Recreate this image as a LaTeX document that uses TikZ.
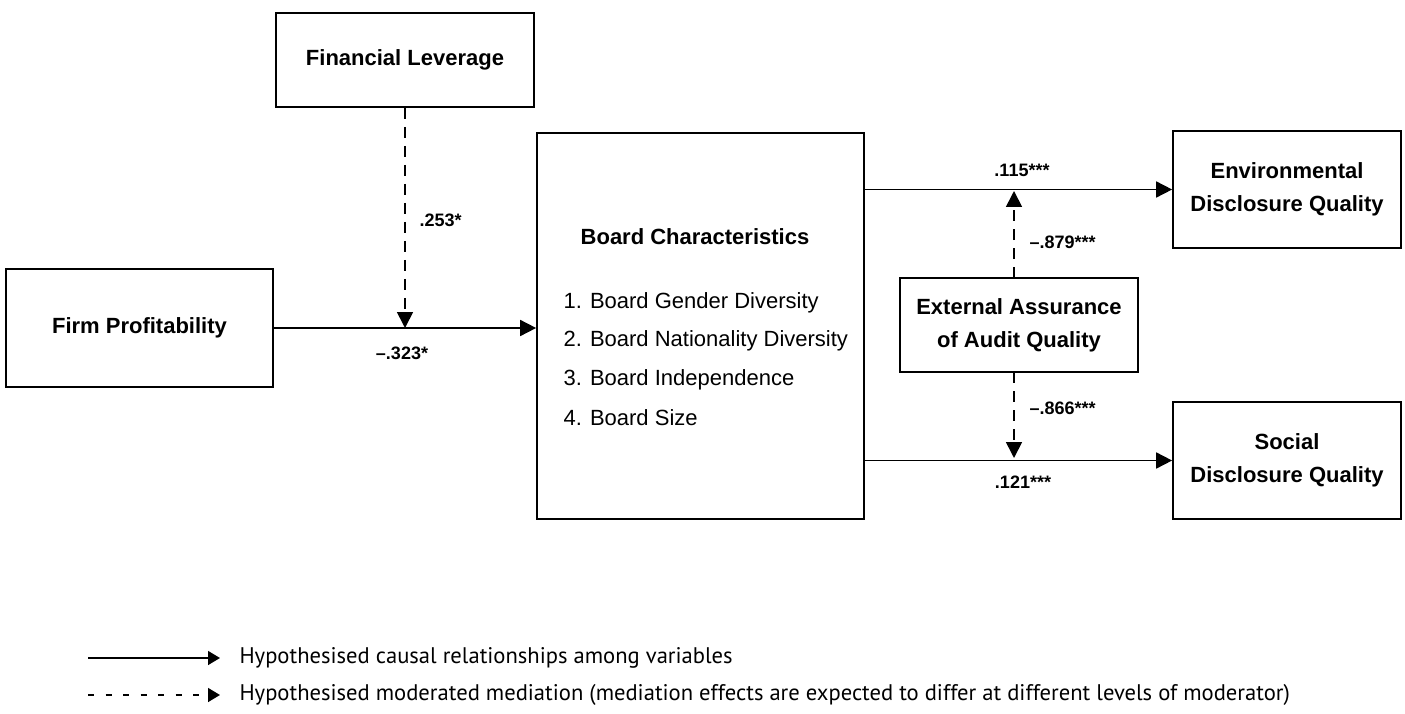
\documentclass[tikz,border=0pt]{standalone}
\usepackage{fontspec}
\setmainfont{Liberation Sans}
\newfontfamily\legendfont{PT Sans}
\usetikzlibrary{arrows.meta}

\begin{document}
\begin{tikzpicture}[
    x=1pt,y=-1pt,
    box/.style={draw,line width=1.7pt,inner sep=0pt,align=center,
        font=\bfseries\fontsize{22}{33}\selectfont},
    lbl/.style={font=\bfseries\fontsize{18}{20}\selectfont},
    item/.style={anchor=west,font=\fontsize{22}{26}\selectfont},
    flow/.style={->,line width=1.7pt},
    moder/.style={->,line width=1.7pt,dash pattern=on 11pt off 8pt},
    legtext/.style={anchor=west,font=\legendfont\fontsize{22.6}{26}\selectfont},
    legarrow/.style={line width=1.5pt,-{Triangle[length=12pt,width=14pt]}},
    >={Triangle[length=16pt,width=16pt]}
]
\useasboundingbox (0,0) rectangle (1405,714);

\node[box,minimum width=258,minimum height=94] (lev) at (405,60) {Financial Leverage};
\node[box,minimum width=267,minimum height=118] (prof) at (139.5,328) {Firm Profitability};
\node[box,minimum width=327,minimum height=386] (board) at (700.5,326) {};
\node[box,minimum width=228,minimum height=117] (env) at (1287,189.5) {Environmental\\Disclosure Quality};
\node[box,minimum width=228,minimum height=117] (soc) at (1287,460.5) {Social\\Disclosure Quality};
\node[box,minimum width=238,minimum height=94] (ext) at (1019,325) {External Assurance\\of Audit Quality};

\node[font=\bfseries\fontsize{22}{26}\selectfont] (title) at (695,237) {Board Characteristics};
\node[item] (i1) at (560,303) {1. Board Gender Diversity};
\node[item] (i2) at (560,341) {2. Board Nationality Diversity};
\node[item] (i3) at (560,380) {3. Board Independence};
\node[item] (i4) at (560,418) {4. Board Size};

\coordinate (m1) at (lev.south |- prof.east);
\coordinate (ext1) at (1014,278);
\coordinate (ext2) at (1014,372);
\coordinate (m2) at (1014,191);
\coordinate (m3) at (1014,458);

\draw[flow] (prof.east) -- (prof.east -| board.west);
\draw[moder] (lev.south) -- (m1);
\draw[flow] (board.east |- env.west) -- (env.west);
\draw[flow] (board.east |- soc.west) -- (soc.west);
\draw[moder] (ext1) -- (m2);
\draw[moder] (ext2) -- (m3);

\node[lbl,anchor=west] (l1) at (416,220) {.253*};
\node[lbl] (l2) at (402,353) {\textendash.323*};
\node[lbl] (l3) at (1022,170) {.115***};
\node[lbl,anchor=west] (l4) at (1026,242) {\textendash.879***};
\node[lbl,anchor=west] (l5) at (1026,408) {\textendash.866***};
\node[lbl] (l6) at (1023,482) {.121***};

\coordinate (a1) at (88,658);
\coordinate (b1) at (220,658);
\coordinate (a2) at (88,695);
\coordinate (b2) at (220,695);
\draw[legarrow] (a1) -- (b1);
\draw[legarrow,dash pattern=on 6pt off 11.5pt] (a2) -- (b2);
\node[legtext] (t1) at (236,658) {Hypothesised causal relationships among variables};
\node[legtext] (t2) at (236,695) {Hypothesised moderated mediation (mediation effects are expected to differ at different levels of moderator)};
\end{tikzpicture}
\end{document}
